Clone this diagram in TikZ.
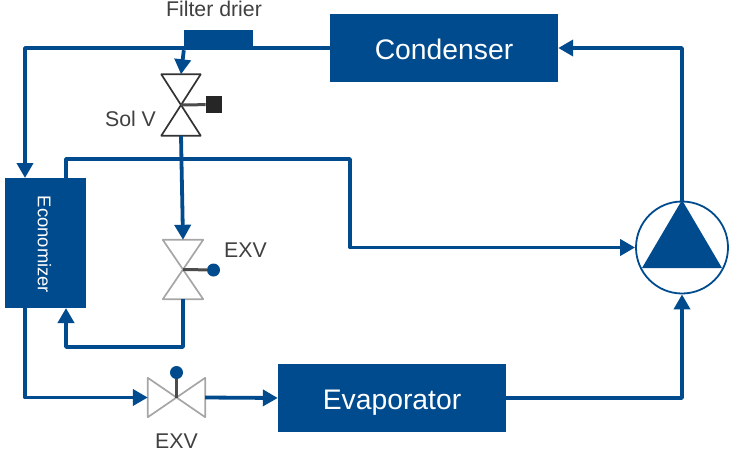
\documentclass[tikz,border=0pt]{standalone}
\usepackage{fontspec}
\setmainfont{Liberation Sans}
\usetikzlibrary{positioning, arrows.meta, shapes.geometric}
\usepackage{xcolor}
\definecolor{unitblue}{HTML}{004B8D}
\definecolor{labelgrey}{HTML}{404040}
\tikzset{
    unit/.style={rectangle, fill=unitblue, text=white, inner sep=0pt},
    bigunit/.style={unit, minimum width=228pt, minimum height=68pt, text height=22.6pt, text depth=0pt, font=\fontsize{28.3}{30}\selectfont},
    flow/.style={draw=unitblue, line width=3.8pt, line join=round},
    flowarrow/.style={flow, -{Triangle[width=16pt,length=15pt]}},
    valve/.style={rectangle, inner sep=0pt},
    label/.style={text=labelgrey, inner sep=0pt, font=\fontsize{21.3}{23}\selectfont},
}

\begin{document}
\begin{tikzpicture}[x=1pt, y=-1pt]
        \useasboundingbox (0,0) rectangle (730,452);

        % Nodes
        \node[bigunit] (cond) at (444,48) {Condenser};
        \node[bigunit] (evap) at (392,398) {Evaporator};
        \node[unit, minimum width=69pt, minimum height=20pt] (filter) at (218.5,40) {};
        \node[unit, minimum width=81pt, minimum height=130pt] (econ) at (45.5,243) {};
        \node[text=white, rotate=-90, inner sep=0pt, font=\fontsize{18.4}{20}\selectfont] (econtext) at (44.5,244.5) {Economizer};
        \node[circle, draw=unitblue, line width=1.8pt, minimum size=92pt, inner sep=0pt] (comp) at (682,247.5) {};
        \node[valve, minimum width=39pt, minimum height=61pt] (solv) at (181,105) {};
        \node[valve, minimum width=40pt, minimum height=59pt] (exvmid) at (183,269.5) {};
        \node[valve, minimum width=57pt, minimum height=39pt] (exvlow) at (176.5,397.5) {};
        \node[rectangle, fill=black!85, minimum size=16.5pt, inner sep=0pt] (solhead) at (214,104.5) {};
        \node[circle, fill=unitblue, minimum size=13pt, inner sep=0pt] (midhead) at (213.5,270) {};
        \node[circle, fill=unitblue, minimum size=13pt, inner sep=0pt] (lowhead) at (176.5,372.5) {};

        % Labels
        \node[label] (filterlabel) at (214,9) {Filter drier};
        \node[label] (sollabel) at (130.5,119) {Sol V};
        \node[label] (midlabel) at (245.5,250) {EXV};
        \node[label] (lowlabel) at (176.5,441.5) {EXV};

        % Coordinates
        \coordinate (econtop) at (25,178);
        \coordinate (econgas) at (66,178);
        \coordinate (econret) at (66,308);
        \coordinate (econliq) at (25,308);

        % Compressor
        \fill[unitblue] (682,200) -- (722,268) -- (642,268) -- cycle;

        % Valves
        \draw[black!80, line width=1.7pt, line join=round] (solv.north west) -- (solv.north east) -- (solv.south west) -- (solv.south east) -- cycle;
        \draw[black!70, line width=3pt] (solv.center) -- (solhead);
        \draw[black!35, line width=1.7pt, line join=round] (exvmid.north west) -- (exvmid.north east) -- (exvmid.south west) -- (exvmid.south east) -- cycle;
        \draw[black!70, line width=3pt] (exvmid.center) -- (midhead);
        \draw[black!35, line width=1.7pt, line join=round] (exvlow.north west) -- (exvlow.south west) -- (exvlow.north east) -- (exvlow.south east) -- cycle;
        \draw[black!70, line width=3pt] (exvlow.center) -- (lowhead);

        % Edges
        \draw[flow] (cond.west) -- (filter.east |- cond.west);
        \draw[flowarrow] (filter.west |- cond.west) -| (econtop);
        \draw[flowarrow] (filter.south west) -- (solv.north);
        \draw[flowarrow] (solv.south) -- (exvmid.north);
        \draw[flowarrow] (econgas) -- (66,159) -| (350,247.5) -- (comp.west);
        \draw[flowarrow] (exvmid.south) |- (66,347) -- (econret);
        \draw[flowarrow] (econliq) |- (exvlow.west);
        \draw[flowarrow] (exvlow.east) -- (evap.west);
        \draw[flowarrow] (evap.east) -| (comp.south);
        \draw[flowarrow] (comp.north) |- (cond.east);

    \end{tikzpicture}
\end{document}
